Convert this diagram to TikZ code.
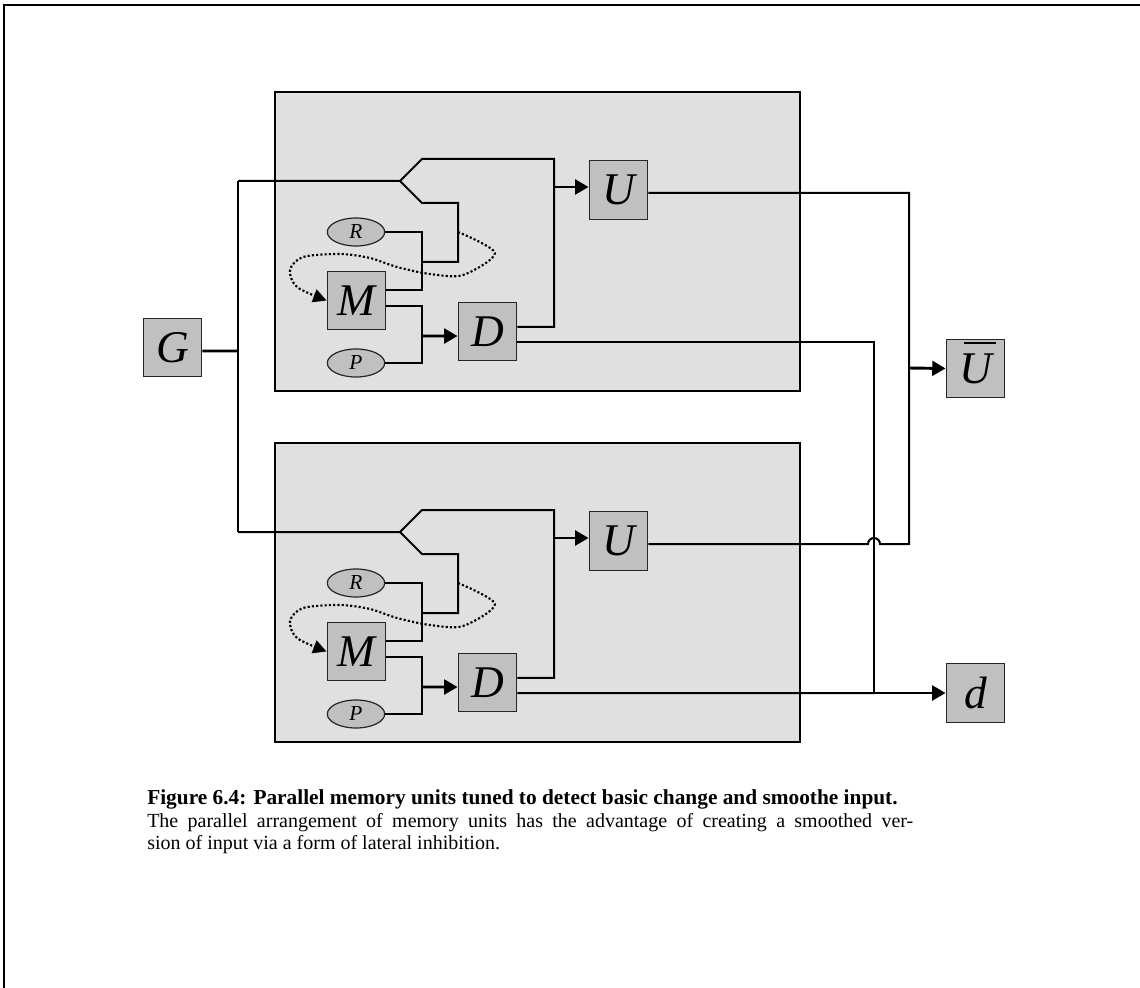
\documentclass[tikz,border=0pt]{standalone}
\usepackage{fontspec}
\setmainfont{Liberation Serif}
\usetikzlibrary{shapes,arrows.meta,calc}
\definecolor{boxgray}{RGB}{192,192,192}
\definecolor{panelgray}{RGB}{224,224,224}

\begin{document}
\begin{tikzpicture}[x=0.75pt,y=-0.75pt,
    cell/.style={draw=black!85,line width=0.9pt,fill=boxgray,minimum size=44pt,inner sep=0pt,
      font=\fontsize{34}{34}\selectfont\itshape},
    knob/.style={ellipse,draw=black!85,line width=0.9pt,fill=boxgray,minimum width=43pt,
      minimum height=21pt,inner sep=0pt,font=\fontsize{16}{16}\selectfont\itshape},
    panel/.style={draw=black,line width=1.4pt,fill=panelgray},
    wire/.style={line width=1.5pt},
    arr/.style={line width=2.2pt,-{Triangle[length=10pt,width=11pt]}},
    feedback/.style={line width=1.6pt,dash pattern=on 1.6pt off 1.6pt,
      -{Triangle[length=10pt,width=10pt]}}]
    \useasboundingbox (0,0) rectangle (1140,988);

    % page frame
    \draw[line width=1.2pt] (4,988) -- (4,5) -- (1140,5);

    % the two memory units
    \foreach \u/\dy in {a/0,b/351} {
      \begin{scope}[shift={(0,\dy)}]
        \draw[panel] (275,92) rectangle (800,391);
        \node[knob] (R\u) at (356,232) {R};
        \node[cell] (M\u) at (356.5,300.5) {M};
        \node[knob] (P\u) at (356,363) {P};
        \node[cell] (D\u) at (487.5,331.5) {D};
        \node[cell] (U\u) at (618.5,190) {U};
        \coordinate (in\u) at (238,181);
        \coordinate (fork\u) at (400,181);
        \coordinate (mix\u) at (422,336);
        \coordinate (gate\u) at (554,187);
        \coordinate (fb\u) at (458,232);

        % input fork
        \draw[wire] (in\u) -- (fork\u) -- ++(22,-22) -- (554,159) |- ([yshift=3.4pt]D\u.east);
        \draw[wire] (fork\u) -- ++(22,22) -- (458,203) -- (458,262) -- (422,262);

        % R, M and P into D
        \draw[wire] (R\u.east) -- ++(37,0) |- ([yshift=7.9pt]M\u.east);
        \draw[wire] (P\u.east) -- ++(37,0) |- ([yshift=-4.1pt]M\u.east);
        \draw[arr] (mix\u) -- ([yshift=-3.4pt]D\u.west);
        \draw[arr] (gate\u) -- ([yshift=2.25pt]U\u.west);

        % feedback loop
        \draw[feedback] plot[smooth] coordinates {(fb\u) (495,253) (463,275) (430,274)
          (397,267) (370,258) (340,254) (303,257) (290,270) (297,287) (M\u.west)};
      \end{scope}
    }

    % input and outputs
    \node[cell] (G) at (172.5,347.5) {G};
    \node[cell] (Ubar) at (975.5,368.5)
      {\rlap{\hspace{0.1em}\smash{\rule[0.86em]{0.72em}{1.5pt}}}U};
    \node[cell] (d) at (975.5,693) {d};

    \draw[line width=2pt] ([yshift=-2.6pt]G.east) -- (238,351);
    \draw[wire] (ina) -- (inb);

    % U outputs (hop over the d line)
    \coordinate (hop) at (874,544);
    \coordinate (ju) at (909,368);
    \draw[wire] ([yshift=-2.25pt]Ua.east) -- (909,193) -- (909,544) -- ($(hop)+(6,0)$)
      arc[start angle=0,end angle=180,radius=4.5pt] -- ([yshift=-2.25pt]Ub.east);
    \draw[arr] (ju) -- (Ubar.west);

    % D outputs
    \coordinate (jd) at (874,693);
    \draw[wire] ([yshift=-7.9pt]Da.east) -| (jd);
    \draw[wire] ([yshift=-7.9pt]Db.east) -- (jd);
    \draw[arr] (jd) -- (d.west);

    % caption
    \node[anchor=base west,inner sep=0pt,font=\fontsize{16}{18}\selectfont\bfseries] (cap1)
      at (147,804) {Figure 6.4: Parallel memory units tuned to detect basic change and smoothe input.};
    \node[anchor=base west,inner sep=0pt,font=\fontsize{15}{18}\selectfont] (cap2)
      at (147,827) {\makebox[574.5pt][s]{The parallel arrangement of memory units has the advantage of creating a smoothed ver-}};
    \node[anchor=base west,inner sep=0pt,font=\fontsize{15}{18}\selectfont] (cap3)
      at (147,849) {sion of input via a form of lateral inhibition.};
\end{tikzpicture}
\end{document}
